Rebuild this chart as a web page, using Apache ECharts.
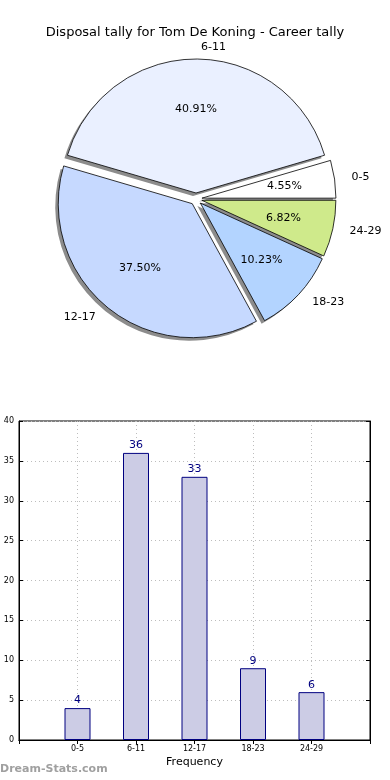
<!DOCTYPE html>
<html><head><meta charset="utf-8">
<script src="https://cdn.jsdelivr.net/npm/echarts@6/dist/echarts.min.js"></script>
<style>html,body{margin:0;padding:0;background:#fff}#c{width:390px;height:780px}</style>
</head><body><div id="c"></div>
<script>
const titleText = 'Disposal tally for Tom De Koning - Career tally';
const categories = ['0-5', '6-11', '12-17', '18-23', '24-29'];
const frequencies = [4, 36, 33, 9, 6];
const sliceColors = ['#ffffff', '#eaf0ff', '#c6d9ff', '#b3d4ff', '#cfea8b'];
const yTicks = [0, 5, 10, 15, 20, 25, 30, 35, 40];

const total = frequencies.reduce((a, b) => a + b, 0);
const pieData = categories.map((c, i) => ({
  name: c, value: frequencies[i], selected: true,
  itemStyle: { color: sliceColors[i] }
}));
const plainData = categories.map((c, i) => ({ name: c, value: frequencies[i], selected: true }));
const xCats = [''].concat(categories).concat(['']);
const barData = [null].concat(frequencies).concat([null]);

const R = 134;
const center = [196, 199];
const shadowCenter = [center[0] - 3, center[1] + 3];
const font = 'DejaVu Sans';
const gridLine = { color: '#bdbdbd', type: [1, 3], width: 1 };
const chart = echarts.init(document.getElementById('c'), null, { renderer: 'canvas' });
chart.setOption({
  animation: false,
  title: { text: titleText, left: 'center', top: 21, textStyle: { fontFamily: font, fontSize: 13, fontWeight: 'normal', color: '#000' } },
  graphic: [{ type: 'text', left: 0, top: 764, style: { text: 'Dream-Stats.com', fill: '#a0a0a0', font: 'bold 11px "DejaVu Sans"' } }],
  grid: [{ left: 19, right: 20, top: 421, bottom: 40, show: true, borderColor: '#000', borderWidth: 1, backgroundColor: 'transparent' }],
  xAxis: [
    { type: 'category', data: xCats, boundaryGap: false, gridIndex: 0,
      name: 'Frequency', nameLocation: 'middle', nameGap: 17, nameTextStyle: { fontFamily: font, fontSize: 11, color: '#000' },
      axisLine: { show: true, lineStyle: { color: '#000' } },
      axisTick: { inside: true, length: 4, interval: 0, lineStyle: { color: '#000' } },
      axisLabel: { interval: 0, fontFamily: font, fontSize: 8, color: '#000', margin: 5 },
      splitLine: { show: true, interval: 0, lineStyle: gridLine } },
    { type: 'category', data: xCats, boundaryGap: false, gridIndex: 0, position: 'top',
      axisLine: { show: true, lineStyle: { color: '#000' } },
      axisTick: { inside: true, length: 4, interval: 0, lineStyle: { color: '#000' } },
      axisLabel: { show: false }, splitLine: { show: false } }
  ],
  yAxis: [
    { type: 'value', min: yTicks[0], max: yTicks[yTicks.length - 1], interval: 5, gridIndex: 0,
      axisLine: { show: true, lineStyle: { color: '#000' } },
      axisTick: { show: true, inside: true, length: 4, lineStyle: { color: '#000' } },
      axisLabel: { fontFamily: font, fontSize: 8, color: '#000', margin: 5 },
      splitLine: { show: true, lineStyle: gridLine } },
    { type: 'value', min: yTicks[0], max: yTicks[yTicks.length - 1], interval: 5, gridIndex: 0, position: 'right',
      axisLine: { show: true, lineStyle: { color: '#000' } },
      axisTick: { show: true, inside: true, length: 4, lineStyle: { color: '#000' } },
      axisLabel: { show: false }, splitLine: { show: false } }
  ],
  series: [
    { type: 'pie', center: shadowCenter, radius: [0, R], clockwise: false, startAngle: 0, z: 1,
      selectedMode: 'multiple', selectedOffset: 6, avoidLabelOverlap: false, silent: true,
      data: plainData,
      itemStyle: { color: '#8c8c8c', borderWidth: 0 },
      label: { show: false }, labelLine: { show: false },
      emphasis: { disabled: true } },
    { type: 'pie', center: center, radius: [0, R], clockwise: false, startAngle: 0, z: 2,
      selectedMode: 'multiple', selectedOffset: 6, avoidLabelOverlap: false, silent: true,
      data: pieData,
      itemStyle: { borderColor: '#000', borderWidth: 0.8 },
      label: { show: true, position: 'outside', formatter: '{b}', fontFamily: font, fontSize: 11, color: '#000', alignTo: 'none' },
      labelLine: { show: false, length: 12, length2: 0 },
      emphasis: { disabled: true } },
    { type: 'pie', center: center, radius: [0, R * 1.2], clockwise: false, startAngle: 0, z: 3,
      selectedMode: 'multiple', selectedOffset: 6, avoidLabelOverlap: false, silent: true,
      data: plainData,
      itemStyle: { color: 'rgba(0,0,0,0)', borderWidth: 0 },
      label: { show: true, position: 'inside', formatter: p => (p.value / total * 100).toFixed(2) + '%', fontFamily: font, fontSize: 11, color: '#000' },
      labelLine: { show: false },
      emphasis: { disabled: true } },
    { type: 'bar', xAxisIndex: 0, yAxisIndex: 0, data: barData, barWidth: 26,
      itemStyle: { color: '#ccccE5', borderColor: '#000080', borderWidth: 1 },
      label: { show: true, position: 'top', distance: 2, fontFamily: font, fontSize: 11, color: '#000080' } }
  ]
});
</script></body></html>
